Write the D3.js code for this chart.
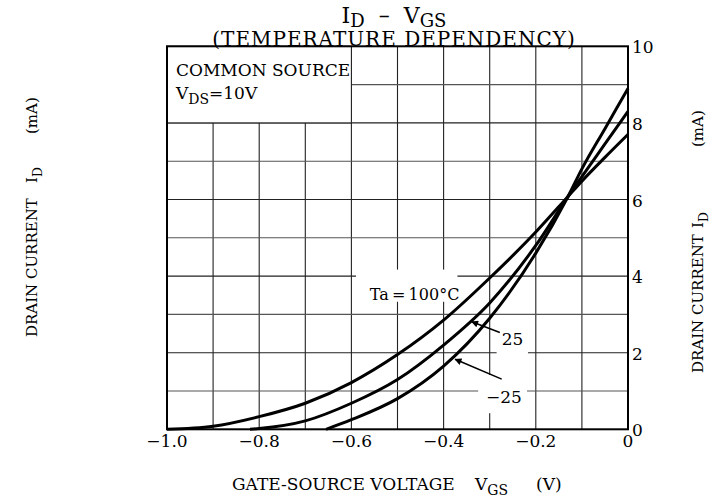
<!DOCTYPE html>
<html>
<head>
<meta charset="utf-8">
<script src="https://cdn.jsdelivr.net/npm/d3@7"></script>
<style>
body { margin: 0; background: #fff; }
svg { font-family: "DejaVu Serif", "Liberation Serif", serif; }
</style>
</head>
<body>
<svg id="chart" width="720" height="497"></svg>
<script>
// values: VGS in V, ID in mA
const xTicks = [-1.0, -0.8, -0.6, -0.4, -0.2, 0];
const xTickLabels = ["\u22121.0", "\u22120.8", "\u22120.6", "\u22120.4", "\u22120.2", "0"];
const yTicks = [0, 2, 4, 6, 8, 10];

const vgsTa100 = [-1.0, -0.9, -0.8, -0.7, -0.6, -0.5, -0.4, -0.3, -0.2, -0.13, -0.1, -0.05, 0];
const idTa100  = [0, 0.08, 0.33, 0.68, 1.22, 1.95, 2.85, 3.95, 5.15, 6.08, 6.48, 7.1, 7.7];
const vgsTa25  = [-0.82, -0.8, -0.7, -0.6, -0.5, -0.4, -0.3, -0.2, -0.13, -0.1, -0.05, 0];
const idTa25   = [0, 0.02, 0.22, 0.68, 1.3, 2.2, 3.3, 4.8, 6.08, 6.6, 7.45, 8.3];
const vgsTaM25 = [-0.655, -0.6, -0.5, -0.4, -0.3, -0.2, -0.13, -0.1, -0.05, 0];
const idTaM25  = [0, 0.25, 0.8, 1.65, 2.9, 4.6, 6.08, 6.8, 7.85, 8.9];

const svg = d3.select("#chart");
const mLeft = 167, mRight = 628, mTop = 46.3, mBottom = 429.3;

let x = d3.scaleLinear().domain([-1, 0]).range([mLeft, mRight]);
let y = d3.scaleLinear().domain([0, 10]).range([mBottom, mTop]);

// grid
let grid = svg.append("g");
grid.selectAll(".vx").data(d3.range(-0.9, -0.05, 0.1)).enter().append("line")
  .attr("x1", d => x(d)).attr("x2", d => x(d))
  .attr("y1", y(0)).attr("y2", y(10))
  .attr("stroke", "#222").attr("stroke-width", 1.1);
grid.selectAll(".hy").data(d3.range(1, 10, 1)).enter().append("line")
  .attr("x1", x(-1)).attr("x2", x(0))
  .attr("y1", d => y(d)).attr("y2", d => y(d))
  .attr("stroke", d => d % 2 ? "#555" : "#222").attr("stroke-width", 1.1);

// white patches behind the labels (grid is broken there)
let patches = [
  [-0.59, -0.37, 3.33, 4.17],   // Ta = 100C
  [-0.285, -0.217, 1.75, 2.6],  // 25
  [-0.325, -0.219, 0.42, 1.42]  // -25
];
svg.selectAll(".patch").data(patches).enter().append("rect")
  .attr("x", d => x(d[0])).attr("width", d => x(d[1]) - x(d[0]))
  .attr("y", d => y(d[3])).attr("height", d => y(d[2]) - y(d[3]))
  .attr("fill", "#fff");

// conditions box
svg.append("rect")
  .attr("x", x(-1)).attr("y", y(10))
  .attr("width", x(-0.6) - x(-1)).attr("height", y(8) - y(10))
  .attr("fill", "#fff").attr("stroke", "#222").attr("stroke-width", 1.1);

// frame
svg.append("rect")
  .attr("x", mLeft).attr("y", mTop).attr("width", mRight - mLeft).attr("height", mBottom - mTop)
  .attr("fill", "none").attr("stroke", "#000").attr("stroke-width", 2);

// curves
let line = d3.line().x(d => x(d[0])).y(d => y(d[1])).curve(d3.curveMonotoneX);
let series = [d3.zip(vgsTa100, idTa100), d3.zip(vgsTa25, idTa25), d3.zip(vgsTaM25, idTaM25)];
svg.selectAll(".curve").data(series).enter().append("path")
  .attr("d", line).attr("fill", "none")
  .attr("stroke", "#000").attr("stroke-width", 3);

// arrows
svg.append("defs").append("marker")
  .attr("id", "arr").attr("viewBox", "0 0 10 10").attr("refX", 9).attr("refY", 5)
  .attr("markerWidth", 10).attr("markerHeight", 7).attr("markerUnits", "userSpaceOnUse")
  .attr("orient", "auto")
  .append("path").attr("d", "M0,0 L10,5 L0,10 z").attr("fill", "#000");
let arrows = [[-0.278, 2.53, -0.339, 2.81], [-0.274, 1.31, -0.375, 1.83]];
svg.selectAll(".arrow").data(arrows).enter().append("line")
  .attr("x1", d => x(d[0])).attr("y1", d => y(d[1]))
  .attr("x2", d => x(d[2])).attr("y2", d => y(d[3]))
  .attr("stroke", "#000").attr("stroke-width", 1.6).attr("marker-end", "url(#arr)");

// tick labels
svg.selectAll(".xt").data(xTicks).enter().append("text")
  .attr("x", d => x(d)).attr("y", 447)
  .attr("text-anchor", "middle").attr("font-size", 17)
  .text((d, i) => xTickLabels[i]);
svg.selectAll(".yt").data(yTicks).enter().append("text")
  .attr("x", 632).attr("y", d => y(d) + 7)
  .attr("font-size", 17)
  .text(d => d);

// text with subscripts
function subText(g, parts, size, drop) {
  drop = drop || 0.3;
  let t = g.append("text").attr("font-size", size).attr("xml:space", "preserve");
  let shifted = false;
  parts.forEach(p => {
    let s = t.append("tspan").text(p.t);
    if (p.sub) {
      s.attr("font-size", size * 0.82);
      if (!shifted) s.attr("dy", size * drop);
      shifted = true;
    } else if (shifted) {
      s.attr("dy", -size * drop);
      shifted = false;
    }
  });
  return t;
}

subText(svg, [{t: "I"}, {t: "D", sub: true}, {t: "  \u2013  V"}, {t: "GS", sub: true}], 22, 0.18)
  .attr("x", 394).attr("y", 23).attr("text-anchor", "middle");
svg.append("text").attr("x", 394).attr("y", 46).attr("text-anchor", "middle")
  .attr("font-size", 20).attr("letter-spacing", 1).text("(TEMPERATURE DEPENDENCY)");

svg.append("text").attr("x", 176).attr("y", 76).attr("font-size", 17).text("COMMON SOURCE");
subText(svg, [{t: "V"}, {t: "DS", sub: true}, {t: "=10V"}], 17).attr("x", 176).attr("y", 99);

svg.append("text").attr("x", x(-0.56)).attr("y", y(3.38)).attr("font-size", 16).text("Ta\u2009=\u2009100\u00b0C");
svg.append("text").attr("x", x(-0.274)).attr("y", y(2.2)).attr("font-size", 17).text("25");
svg.append("text").attr("x", x(-0.308)).attr("y", y(0.69)).attr("font-size", 17).text("\u221225");

// axis titles
svg.append("text").attr("x", 232).attr("y", 490).attr("font-size", 17).text("GATE-SOURCE VOLTAGE");
subText(svg, [{t: "V"}, {t: "GS", sub: true}], 17).attr("x", 475).attr("y", 490);
svg.append("text").attr("x", 536).attr("y", 490).attr("font-size", 17).text("(V)");

function yLabel(bx, yStart, yId, yUnit) {
  let g = svg.append("g").attr("transform", "translate(" + bx + ",0)");
  g.append("text").attr("transform", "translate(0," + yStart + ") rotate(-90)")
    .attr("font-size", 15).text("DRAIN CURRENT");
  subText(g, [{t: "I"}, {t: "D", sub: true}], 15)
    .attr("transform", "translate(0," + yId + ") rotate(-90)");
  g.append("text").attr("transform", "translate(0," + yUnit + ") rotate(-90)")
    .attr("font-size", 15).text("(mA)");
}
yLabel(37, 337, 183, 134);
yLabel(703, 373, 228, 147);
</script>
</body>
</html>
